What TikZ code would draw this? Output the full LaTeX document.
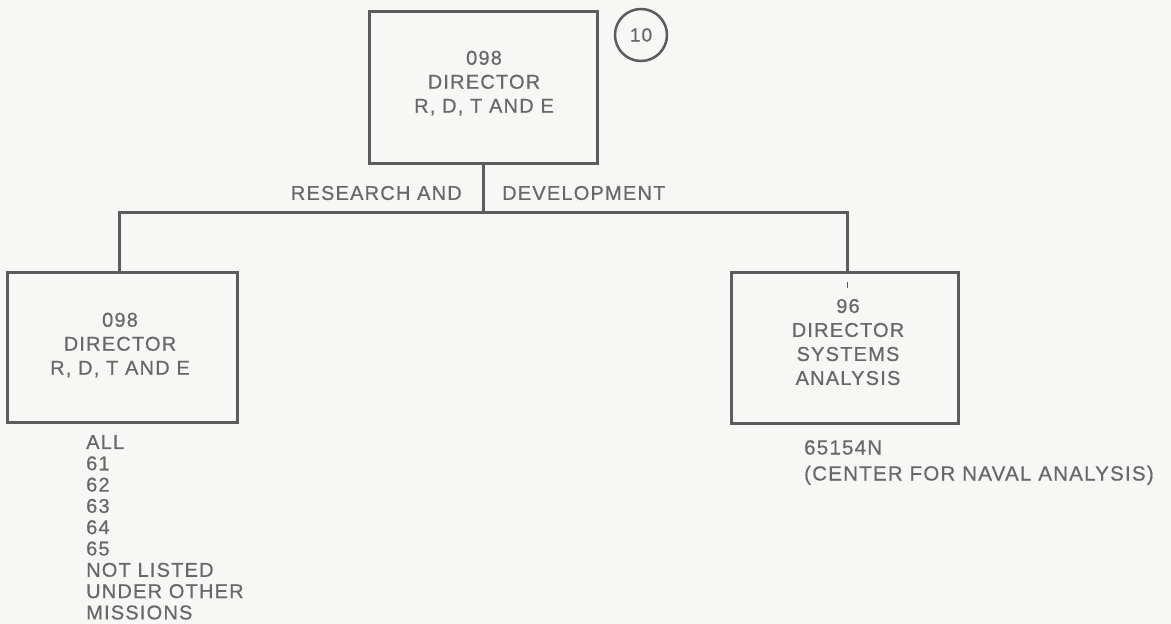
\documentclass[tikz,border=0pt]{standalone}
\usepackage{fontspec}
\setmainfont{Liberation Sans}[LetterSpace=6,FakeBold=0.6]
\definecolor{ink}{HTML}{5C5C5C}
\definecolor{txt}{HTML}{686868}
\definecolor{paper}{HTML}{F7F7F5}
\begin{document}
\begin{tikzpicture}[x=1pt,y=-1pt,
  orgbox/.style={draw=ink,line width=3pt,fill=none},
  boxtext/.style={text=txt,align=center,inner sep=0pt,font=\fontsize{20}{24}\selectfont},
  listtext/.style={text=txt,align=left,inner sep=0pt,anchor=north west,font=\fontsize{20}{21.3}\selectfont},
  lbl/.style={text=txt,inner sep=0pt,font=\fontsize{20}{24}\selectfont},
  conn/.style={draw=ink,line width=3pt}]
\fill[paper] (0,0) rectangle (1171,624);
\useasboundingbox (0,0) rectangle (1171,624);

% boxes
\draw[orgbox] (369,11) rectangle (597,163);
\coordinate (topS) at (483,163);
\draw[orgbox] (7,272) rectangle (237,422);
\coordinate (leftN) at (119,272);
\draw[orgbox] (731,272) rectangle (958,423);
\coordinate (rightN) at (847,272);

\node[boxtext] (top) at (484,83) {098\\DIRECTOR\\R, D, T AND E};
\node[boxtext] (left) at (120,345) {098\\DIRECTOR\\R, D, T AND E};
\node[boxtext] (right) at (848,342) {96\\DIRECTOR\\SYSTEMS\\ANALYSIS};

% circle
\node[draw=ink,line width=2.5pt,circle,minimum size=52pt,inner sep=0pt,text=txt,font=\fontsize{19}{22}\selectfont] (num) at (641,35) {10};

% connectors
\coordinate (bus) at (483,212);
\coordinate (busL) at (119,212);
\coordinate (busR) at (847,212);
\draw[conn] (topS) -- (bus);
\draw[conn] (leftN) -- (busL) -- (busR) -- (rightN);
\draw[draw=ink,line width=1pt] (847,282) -- (847,288);

% labels
\node[lbl,anchor=east] (rnd) at (462,193) {RESEARCH AND};
\node[lbl,anchor=west] (dev) at (502,193) {DEVELOPMENT};

% lists
\node[listtext] (llist) at (86,435) {ALL\\61\\62\\63\\64\\65\\NOT LISTED\\UNDER OTHER\\MISSIONS};
\node[listtext,font=\fontsize{20.5}{26}\selectfont] (rlist) at (804,440) {65154N\\(CENTER FOR NAVAL ANALYSIS)};
\end{tikzpicture}
\end{document}
